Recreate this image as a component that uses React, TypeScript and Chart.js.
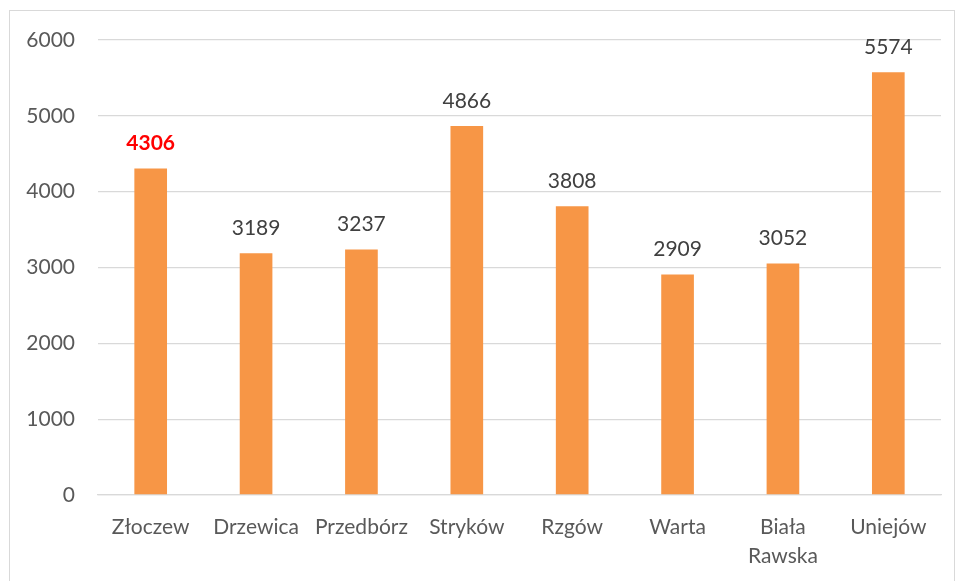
import React, { useEffect, useRef } from "react";
import { Chart, registerables } from "chart.js";

Chart.register(...registerables);

const categories: (string | string[])[] = ["Złoczew", "Drzewica", "Przedbórz", "Stryków", "Rzgów", "Warta", ["Biała", "Rawska"], "Uniejów"];
const values: number[] = [4306, 3189, 3237, 4866, 3808, 2909, 3052, 5574];
const yTicks: number[] = [0, 1000, 2000, 3000, 4000, 5000, 6000];

const FONT = "Lato, 'Liberation Sans', sans-serif";

const labelPlugin = {
  id: "valueLabels",
  afterDatasetsDraw(chart: any) {
    const ctx = chart.ctx;
    const meta = chart.getDatasetMeta(0);
    ctx.save();
    ctx.textAlign = "center";
    ctx.textBaseline = "middle";
    meta.data.forEach((bar: any, i: number) => {
      const first = i === 0;
      ctx.font = `${first ? "bold " : ""}21px ${FONT}`;
      ctx.fillStyle = first ? "#ff0000" : "#404040";
      ctx.fillText(String(values[i]), bar.x, bar.y - 25);
    });
    ctx.restore();
  },
};

export default function App() {
  const ref = useRef<HTMLCanvasElement>(null);
  useEffect(() => {
    if (!ref.current) return;
    const chart = new Chart(ref.current, {
      type: "bar",
      data: {
        labels: categories,
        datasets: [
          {
            data: values,
            backgroundColor: "#F79646",
            barPercentage: 0.31,
            categoryPercentage: 1,
          },
        ],
      },
      options: {
        animation: false,
        responsive: false,
        layout: { padding: { top: 29, right: 13, left: 0, bottom: 0 } },
        plugins: { legend: { display: false }, tooltip: { enabled: false } },
        scales: {
          y: {
            min: 0,
            max: 6000,
            afterFit(scale: any) {
              scale.width = 88;
              scale.paddingTop = 0;
              scale.paddingBottom = 0;
            },
            afterBuildTicks(scale: any) {
              scale.ticks = yTicks.map((v) => ({ value: v }));
            },
            border: { display: false },
            grid: { color: "#d9d9d9", lineWidth: 1.3, drawTicks: false },
            ticks: {
              padding: 23,
              color: "#595959",
              font: { family: FONT, size: 21 },
              callback: (v: any) => String(v),
            },
          },
          x: {
            afterFit(scale: any) {
              scale.height = 96;
            },
            border: { display: true, color: "#d9d9d9", width: 1.3 },
            grid: { display: false, drawTicks: false },
            ticks: {
              padding: 18,
              color: "#595959",
              maxRotation: 0,
              autoSkip: false,
              font: { family: FONT, size: 21, lineHeight: 1.38 },
            },
          },
        },
      },
      plugins: [labelPlugin],
    });
    return () => chart.destroy();
  }, []);
  return (
    <div
      style={{
        position: "absolute",
        left: 9,
        top: 10,
        width: 944,
        height: 580,
        border: "1.5px solid #d9d9d9",
        background: "#fff",
      }}
    >
      <canvas ref={ref} width={944} height={580} style={{ display: "block" }} />
    </div>
  );
}
